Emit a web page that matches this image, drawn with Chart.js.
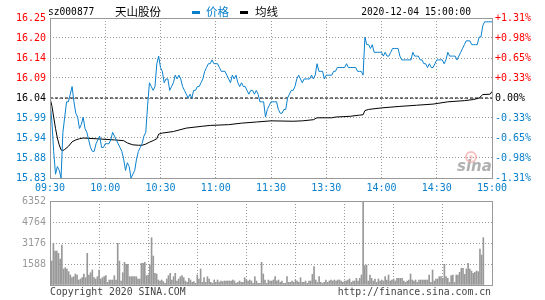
<!DOCTYPE html>
<html>
<head>
<meta charset="utf-8">
<script src="https://cdn.jsdelivr.net/npm/chart.js@4.4.1/dist/chart.umd.min.js"></script>
<style>
html, body { margin: 0; padding: 0; background: #fff; }
#wrap { position: relative; width: 545px; height: 300px; overflow: hidden; }
canvas { position: absolute; left: 0; }
#price { top: 0; }
#vol { top: 190px; }
</style>
</head>
<body>
<div id="wrap">
  <canvas id="price" width="545" height="200"></canvas>
  <canvas id="vol" width="545" height="110"></canvas>
</div>
<script>
const stockCode = 'sz000877';
const stockName = '天山股份';
const quoteTime = '2020-12-04 15:00:00';
const preClose = 16.04;
const priceMin = 15.83;
const priceMax = 16.25;
const volMax = 6352;

const timeLabels = ['09:30', '10:00', '10:30', '11:00', '11:30', '13:30', '14:00', '14:30', '15:00'];
const priceTicks = ['16.25', '16.20', '16.14', '16.09', '16.04', '15.99', '15.94', '15.88', '15.83'];
const pctTicks = ['+1.31%', '+0.98%', '+0.65%', '+0.33%', '0.00%', '-0.33%', '-0.65%', '-0.98%', '-1.31%'];
const volTicks = ['6352', '4764', '3176', '1588'];

// one price per minute, 09:30 .. 11:30, 13:01 .. 15:00
const prices = [
  16.03, 15.98, 15.90, 15.84, 15.86, 15.85, 15.83, 15.95, 15.99, 16.03,
  16.03, 16.05, 16.07, 16.03, 16.00, 15.99, 15.96, 15.97, 15.99, 15.96,
  15.95, 15.93, 15.91, 15.90, 15.90, 15.92, 15.93, 15.94, 15.91, 15.91,
  15.92, 15.92, 15.92, 15.93, 15.95, 15.94, 15.93, 15.92, 15.91, 15.90,
  15.88, 15.85, 15.87, 15.86, 15.83, 15.84, 15.85, 15.88, 15.90, 15.91,
  15.92, 15.94, 15.95, 16.02, 16.08, 16.07, 16.06, 16.07, 16.13, 16.15,
  16.12, 16.11, 16.08, 16.09, 16.09, 16.06, 16.07, 16.08, 16.10, 16.09,
  16.10, 16.09, 16.07, 16.06, 16.05, 16.04, 16.05, 16.04, 16.06, 16.06,
  16.07, 16.07, 16.08, 16.09, 16.11, 16.12, 16.13, 16.13, 16.14, 16.13,
  16.13, 16.13, 16.12, 16.11, 16.11, 16.11, 16.10, 16.09, 16.08, 16.10,
  16.09, 16.10, 16.08, 16.07, 16.08, 16.07, 16.07, 16.06, 16.05, 16.06,
  16.06, 16.05, 16.06, 16.05, 16.03, 16.03, 16.03, 15.99, 16.01, 16.02,
  16.03, 16.03, 16.03, 16.03, 16.01, 16.00, 16.00, 16.01, 16.01, 16.04,
  16.05, 16.06, 16.06, 16.07, 16.09, 16.10, 16.09, 16.08, 16.09, 16.09,
  16.09, 16.09, 16.10, 16.09, 16.10, 16.13, 16.11, 16.11, 16.11, 16.09,
  16.10, 16.10, 16.10, 16.10, 16.11, 16.11, 16.12, 16.12, 16.12, 16.12,
  16.12, 16.13, 16.12, 16.12, 16.12, 16.12, 16.12, 16.11, 16.11, 16.11,
  16.10, 16.20, 16.18, 16.18, 16.17, 16.18, 16.16, 16.16, 16.16, 16.16,
  16.16, 16.15, 16.16, 16.15, 16.15, 16.16, 16.17, 16.17, 16.17, 16.17,
  16.15, 16.14, 16.14, 16.14, 16.14, 16.14, 16.14, 16.16, 16.15, 16.15,
  16.15, 16.14, 16.14, 16.13, 16.13, 16.12, 16.13, 16.12, 16.12, 16.13,
  16.14, 16.14, 16.14, 16.14, 16.13, 16.14, 16.16, 16.15, 16.15, 16.15,
  16.15, 16.14, 16.15, 16.16, 16.17, 16.18, 16.19, 16.19, 16.19, 16.18,
  16.18, 16.18, 16.18, 16.20, 16.20, 16.23, 16.24, 16.24, 16.24, 16.24,
  16.24
];

const avgMinutes = [0, 1, 2, 3, 4, 5, 6, 7, 8, 10, 12, 14, 16, 18, 25, 35, 40, 42, 45, 48,
  50, 52, 54, 56, 58, 59, 61, 67, 74, 83, 87, 97, 104, 112, 120, 132, 137, 143, 145, 153,
  155, 163, 168, 170, 171, 173, 180, 190, 199, 208, 216, 225, 230, 233, 235, 239, 240];
const avgPrices = [16.04, 16.02, 15.99, 15.96, 15.935, 15.917, 15.904, 15.902, 15.905, 15.913,
  15.925, 15.93, 15.933, 15.935, 15.933, 15.93, 15.928, 15.922, 15.917, 15.916,
  15.916, 15.919, 15.924, 15.928, 15.933, 15.945, 15.948, 15.952, 15.961, 15.966,
  15.968, 15.97, 15.974, 15.977, 15.98, 15.979, 15.98, 15.983, 15.988, 15.988,
  15.99, 15.992, 15.995, 15.996, 16.007, 16.01, 16.014, 16.018, 16.021, 16.024,
  16.03, 16.033, 16.036, 16.04, 16.049, 16.05, 16.057];

const volumes = [
  2394, 1814, 3150, 2570, 2570, 2394, 1966, 3024, 1210, 1310, 1210, 1008, 756, 554, 630, 832, 756, 378, 454, 554,
  832, 554, 2394, 756, 932, 1134, 554, 454, 630, 1134, 454, 554, 630, 706, 202, 378, 378, 378, 706, 378,
  3150, 1814, 302, 932, 1714, 1562, 1562, 630, 630, 630, 630, 630, 454, 454, 1638, 1638, 1714, 706, 756, 1512,
  3578, 2192, 882, 832, 378, 302, 378, 252, 126, 454, 706, 882, 378, 630, 882, 302, 454, 630, 706, 554,
  302, 202, 504, 378, 202, 252, 126, 756, 454, 1210, 202, 554, 202, 630, 454, 202, 126, 378, 202, 378,
  202, 302, 252, 302, 302, 302, 302, 302, 378, 302, 126, 202, 302, 202, 202, 554, 378, 302, 378, 302,
  126, 630, 302, 126, 126, 1714, 832, 378, 126, 378, 302, 302, 378, 630, 302, 378, 202, 302, 126, 126,
  630, 202, 202, 302, 202, 378, 302, 202, 554, 202, 202, 302, 126, 302, 302, 806, 1386, 378, 202, 630,
  202, 126, 202, 378, 202, 302, 378, 302, 378, 302, 378, 378, 302, 202, 302, 302, 378, 454, 202, 302,
  302, 504, 302, 504, 756, 6352, 1462, 1512, 302, 756, 504, 302, 454, 202, 454, 302, 378, 302, 630, 378,
  756, 302, 378, 454, 302, 504, 504, 504, 504, 302, 202, 302, 378, 832, 378, 302, 378, 202, 378, 378,
  378, 378, 378, 378, 756, 202, 1134, 302, 454, 454, 630, 630, 504, 1562, 630, 504, 202, 706, 756, 202,
  756, 756, 958, 1260, 1260, 806, 1210, 1638, 1210, 1058, 882, 958, 1058, 1008, 2722, 2268, 3578
];

const BLUE = '#0a80cc';
const RED = '#ff0000';
const GRID = '#999999';
const MONO = '"DejaVu Sans Mono", monospace';

Chart.defaults.font.family = MONO;
Chart.defaults.font.size = 10;

const frame = {
  id: 'frame',
  afterDatasetsDraw(chart) {
    const a = chart.chartArea;
    const ctx = chart.ctx;
    ctx.save();
    ctx.strokeStyle = '#999';
    ctx.lineWidth = 1;
    ctx.strokeRect(Math.round(a.left) + 0.5, Math.round(a.top) + 0.5,
      Math.round(a.right - a.left), Math.round(a.bottom - a.top));
    ctx.restore();
  }
};

const header = {
  id: 'header',
  afterDraw(chart) {
    const ctx = chart.ctx;
    ctx.save();
    ctx.textBaseline = 'middle';
    ctx.font = '9.6px ' + MONO;
    ctx.fillStyle = '#000';
    ctx.textAlign = 'left';
    ctx.fillText(stockCode, 48, 12);
    ctx.font = '11.5px "Noto Sans CJK SC"';
    ctx.fillText(stockName, 115, 12);
    ctx.fillStyle = BLUE;
    ctx.fillRect(192, 11, 8, 3);
    ctx.fillText('价格', 206, 12);
    ctx.fillStyle = '#000';
    ctx.fillRect(240, 11, 8, 3);
    ctx.fillText('均线', 255, 12);
    ctx.font = '9.6px ' + MONO;
    ctx.textAlign = 'right';
    ctx.fillText(quoteTime, 471, 12);

    // sina watermark
    ctx.strokeStyle = 'rgba(240,120,120,0.45)';
    ctx.lineWidth = 2;
    ctx.beginPath();
    ctx.arc(471, 157, 5, 0, Math.PI * 2);
    ctx.stroke();
    ctx.fillStyle = 'rgba(240,120,120,0.35)';
    ctx.beginPath();
    ctx.arc(471, 157, 2, 0, Math.PI * 2);
    ctx.fill();
    ctx.font = 'italic bold 15px "DejaVu Sans"';
    ctx.fillStyle = 'rgba(150,150,150,0.75)';
    ctx.textAlign = 'left';
    ctx.textBaseline = 'alphabetic';
    ctx.fillText('sina', 457, 171);
    ctx.restore();
  }
};

const footer = {
  id: 'footer',
  afterDraw(chart) {
    const ctx = chart.ctx;
    ctx.save();
    ctx.font = '9.8px ' + MONO;
    ctx.fillStyle = '#444';
    ctx.textBaseline = 'middle';
    ctx.textAlign = 'left';
    ctx.fillText('Copyright 2020 SINA.COM', 50, 102);
    ctx.textAlign = 'right';
    ctx.fillText('http://finance.sina.com.cn', 491, 102);
    ctx.restore();
  }
};

function sideColor(ctx) {
  const v = ctx.tick ? ctx.tick.value : 0;
  if (Math.abs(v - preClose) < 0.001) return '#000';
  return v > preClose ? RED : BLUE;
}

function evenTicks(scale) {
  const n = priceTicks.length - 1;
  scale.ticks = priceTicks.map((t, i) => ({ value: priceMin + i * (priceMax - priceMin) / n }));
}

new Chart(document.getElementById('price'), {
  type: 'line',
  data: {
    datasets: [
      {
        label: '价格',
        data: prices.map((p, i) => ({ x: i, y: p })),
        borderColor: BLUE,
        borderWidth: 1,
        pointRadius: 0
      },
      {
        label: '均线',
        data: avgMinutes.map((m, i) => ({ x: m, y: avgPrices[i] })),
        borderColor: '#000',
        borderWidth: 1,
        pointRadius: 0
      },
      {
        label: '昨收',
        data: [{ x: 0, y: preClose }, { x: 240, y: preClose }],
        borderColor: '#000',
        borderWidth: 1,
        borderDash: [3, 2],
        pointRadius: 0
      }
    ]
  },
  options: {
    responsive: false,
    animation: false,
    layout: { padding: { top: 18 } },
    plugins: { legend: { display: false }, tooltip: { enabled: false } },
    scales: {
      x: {
        type: 'linear',
        min: 0,
        max: 240,
        afterBuildTicks: s => { s.ticks = timeLabels.map((t, i) => ({ value: i * 30 })); },
        afterFit: s => { s.height = 22; },
        ticks: { callback: (v, i) => timeLabels[i], color: BLUE, autoSkip: false, maxRotation: 0, padding: 4 },
        grid: { color: GRID, drawTicks: false },
        border: { display: false, dash: [1, 2] }
      },
      y: {
        position: 'left',
        min: priceMin,
        max: priceMax,
        afterBuildTicks: evenTicks,
        afterFit: s => { s.width = 50; },
        ticks: { callback: (v, i) => priceTicks[priceTicks.length - 1 - i], color: sideColor, padding: 4 },
        grid: { color: GRID, drawTicks: false },
        border: { display: false, dash: [1, 2] }
      },
      yr: {
        position: 'right',
        min: priceMin,
        max: priceMax,
        afterBuildTicks: evenTicks,
        afterFit: s => { s.width = 53; },
        ticks: { callback: (v, i) => pctTicks[pctTicks.length - 1 - i], color: sideColor, padding: 3 },
        grid: { display: false, drawTicks: false },
        border: { display: false }
      }
    }
  },
  plugins: [frame, header]
});

const volSpan = volumes.length - 1;

new Chart(document.getElementById('vol'), {
  type: 'bar',
  data: {
    datasets: [{
      label: '成交量',
      data: volumes.map((v, i) => ({ x: i, y: v })),
      backgroundColor: '#999',
      barThickness: 1,
      xAxisID: 'xb'
    }]
  },
  options: {
    responsive: false,
    animation: false,
    layout: { padding: { top: 11, bottom: 15, right: 53 } },
    plugins: { legend: { display: false }, tooltip: { enabled: false } },
    scales: {
      xb: { type: 'linear', display: false, min: 0, max: volSpan * 1.02, offset: false },
      xt: {
        type: 'linear',
        axis: 'x',
        position: 'bottom',
        min: 0,
        max: 240,
        afterBuildTicks: s => { s.ticks = timeLabels.map((t, i) => ({ value: i * 30 })); },
        afterFit: s => { s.height = 0; },
        ticks: { display: false },
        grid: { color: GRID, drawTicks: false },
        border: { display: false, dash: [1, 2] }
      },
      y: {
        min: 0,
        max: volMax,
        afterBuildTicks: s => { s.ticks = [0, 1, 2, 3, 4].map(i => ({ value: i * volMax / 4 })); },
        afterFit: s => { s.width = 50; },
        ticks: { callback: (v, i) => (i === 0 ? '' : volTicks[4 - i]), color: '#999', padding: 4 },
        grid: { color: GRID, drawTicks: false },
        border: { display: false, dash: [1, 2] }
      }
    }
  },
  plugins: [frame, footer]
});
</script>
</body>
</html>
